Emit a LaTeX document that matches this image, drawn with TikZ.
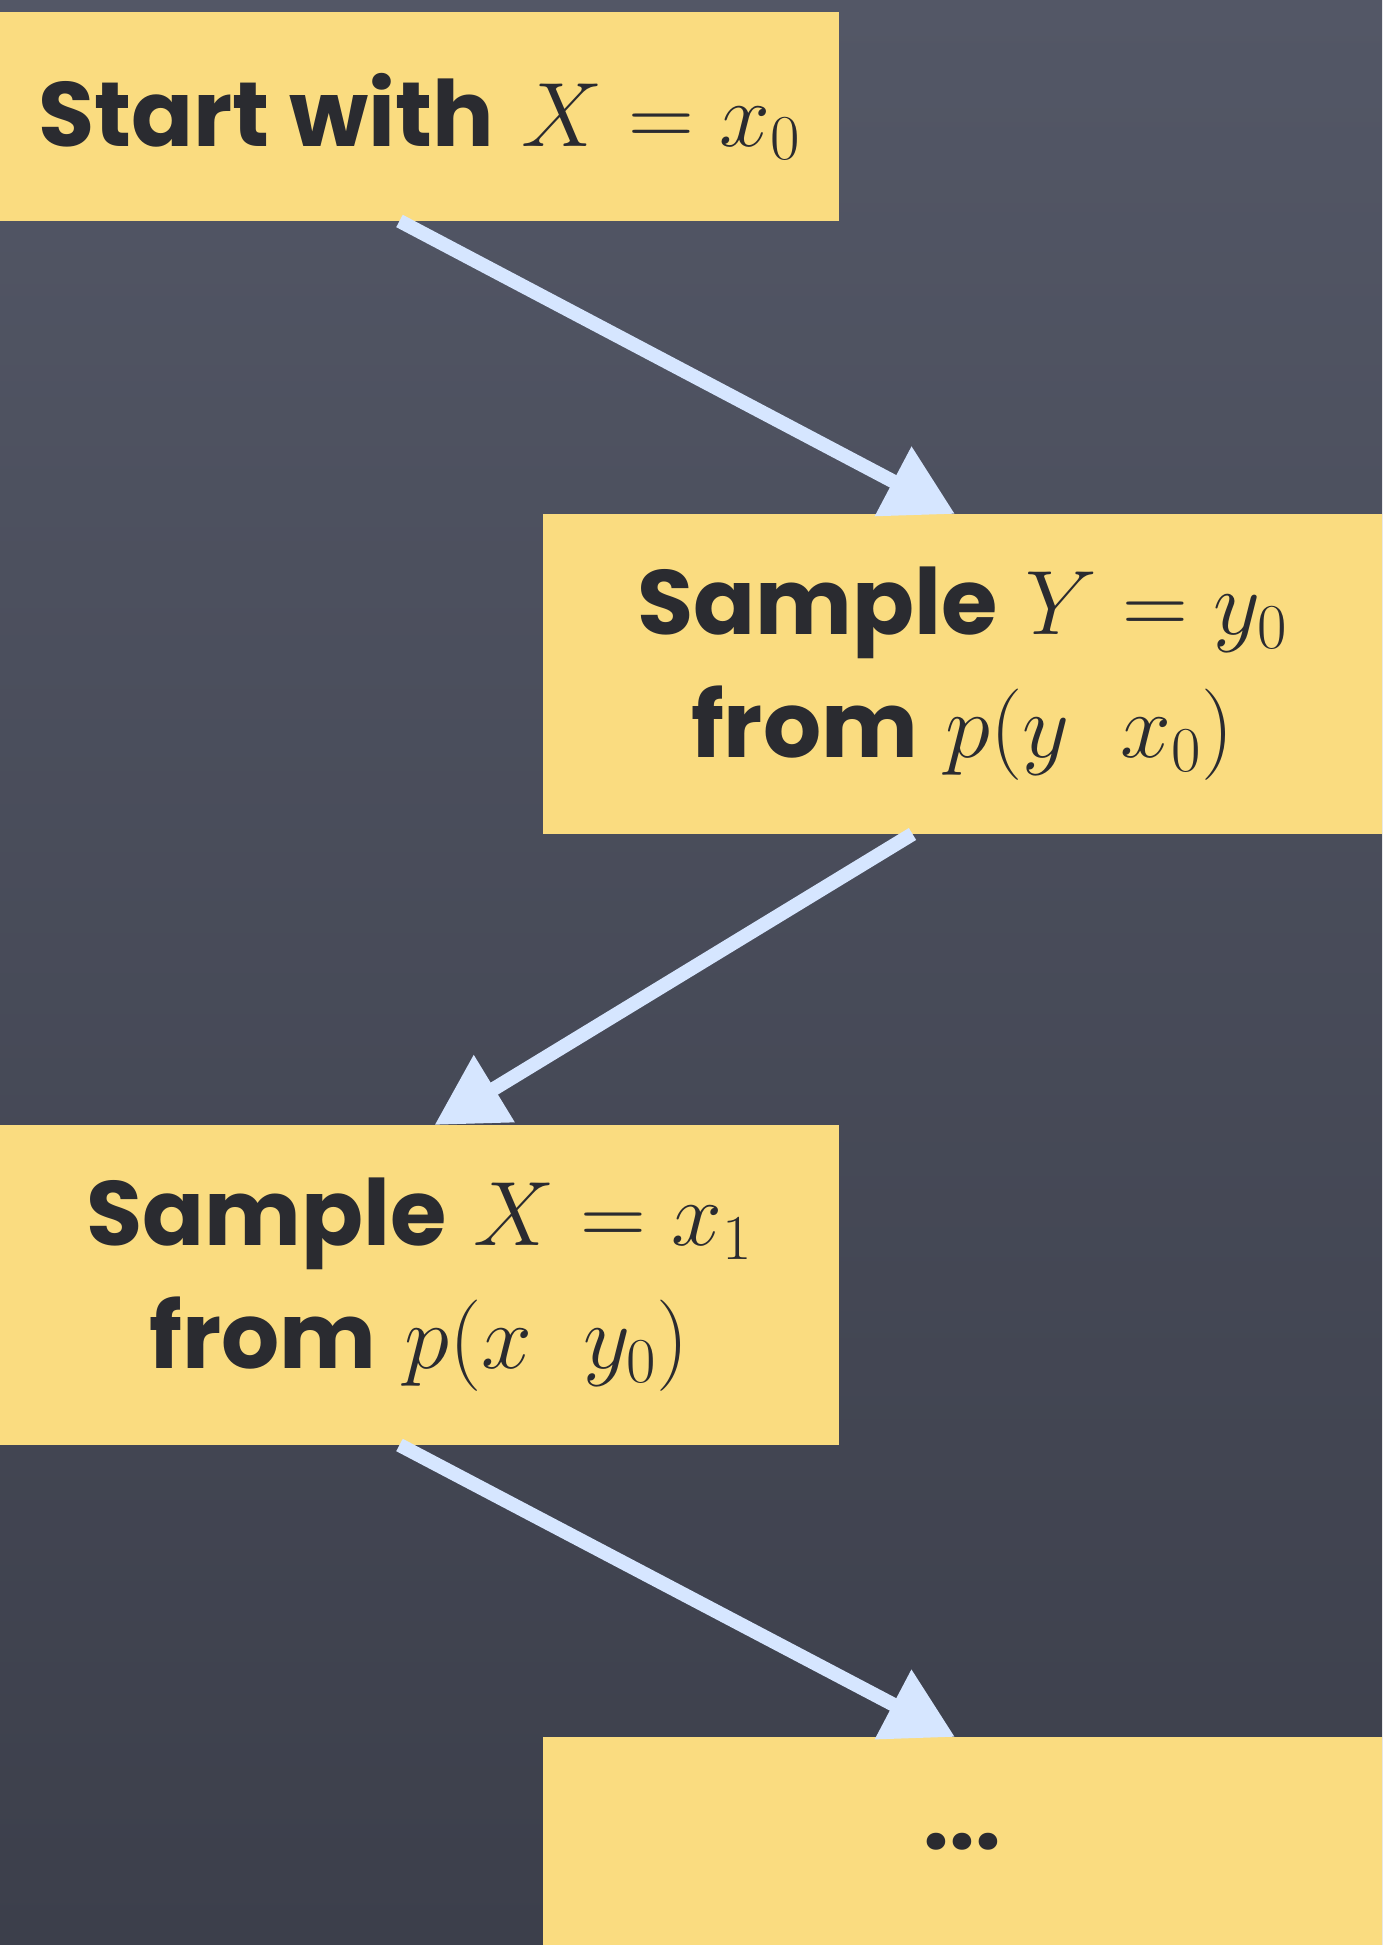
\documentclass[tikz,border=0pt]{standalone}
\usepackage{fix-cm}
\usepackage{fontspec}
\usepackage{tikz}
\usetikzlibrary{arrows.meta,positioning}
\newfontfamily\chalkfont{Poppins}
\definecolor{boardtop}{HTML}{535766}
\definecolor{boardbottom}{HTML}{3C3F4B}
\definecolor{stickyyellow}{HTML}{FADC80}
\definecolor{chalkblue}{HTML}{D6E6FF}
\definecolor{inkgray}{HTML}{2A2B30}
\tikzset{
  card/.style={
    rectangle,
    fill=stickyyellow,
    text=inkgray,
    align=center,
    inner sep=0pt,
    outer sep=0pt,
    minimum width=16.78cm,
    minimum height=4.18cm,
    font=\fontsize{52}{70}\selectfont
  },
  tallcard/.style={
    card,
    minimum height=6.4cm
  },
  chalkarrow/.style={-{Triangle[length=1.4cm,width=1.5cm]},line width=0.28cm,draw=chalkblue}
}
\newcommand{\hand}[1]{{\chalkfont\bfseries #1}}

\begin{document}
\begin{tikzpicture}
    \useasboundingbox (0,0) rectangle (27.64,38.9);
    \shade[top color=boardtop,bottom color=boardbottom] (0,0) rectangle (27.64,38.9);

    \node[card,anchor=north west] (start) at (0,38.66) {\hand{Start with} $X=x_0$};
    \node[tallcard,below right=5.86cm and -5.92cm of start] (sampley) {\hand{Sample} $Y=y_0$\\\hand{from} $p(y\;\;x_0)$};
    \node[tallcard,below left=5.82cm and -5.92cm of sampley] (samplex) {\hand{Sample} $X=x_1$\\\hand{from} $p(x\;\;y_0)$};
    \node[card,below right=5.84cm and -5.92cm of samplex] (dots) {\hand{...}};

    \draw[chalkarrow] ([xshift=-0.4cm]start.south) -- ([xshift=-0.15cm]sampley.north);
    \draw[chalkarrow] ([xshift=-1.0cm]sampley.south) -- ([xshift=0.3cm]samplex.north);
    \draw[chalkarrow] ([xshift=-0.4cm]samplex.south) -- ([xshift=-0.15cm]dots.north);
  \end{tikzpicture}
\end{document}
